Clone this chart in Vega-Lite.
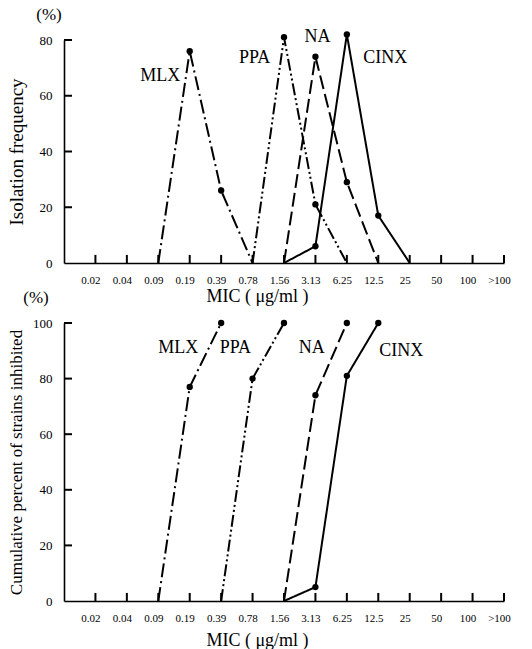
{
  "$schema": "https://vega.github.io/schema/vega-lite/v6.json",
  "background": "white",
  "padding": {"left": 6, "top": 6, "right": 0, "bottom": 0},
  "config": {
    "font": "Liberation Serif",
    "view": {"stroke": null},
    "axis": {
      "grid": false,
      "ticks": false,
      "domainColor": "black",
      "labelColor": "black",
      "titleColor": "black",
      "domainWidth": 1.6,
      "labelFont": "Liberation Serif",
      "titleFont": "Liberation Serif",
      "titleFontWeight": "normal"
    }
  },
  "datasets": {
    "freq": [
      {"drug": "MLX", "mic": "0.09", "pct": 0},
      {"drug": "MLX", "mic": "0.19", "pct": 76},
      {"drug": "MLX", "mic": "0.39", "pct": 26},
      {"drug": "MLX", "mic": "0.78", "pct": 0},
      {"drug": "PPA", "mic": "0.78", "pct": 0},
      {"drug": "PPA", "mic": "1.56", "pct": 81},
      {"drug": "PPA", "mic": "3.13", "pct": 21},
      {"drug": "PPA", "mic": "6.25", "pct": 0},
      {"drug": "NA", "mic": "1.56", "pct": 0},
      {"drug": "NA", "mic": "3.13", "pct": 74},
      {"drug": "NA", "mic": "6.25", "pct": 29},
      {"drug": "NA", "mic": "12.5", "pct": 0},
      {"drug": "CINX", "mic": "1.56", "pct": 0},
      {"drug": "CINX", "mic": "3.13", "pct": 6},
      {"drug": "CINX", "mic": "6.25", "pct": 82},
      {"drug": "CINX", "mic": "12.5", "pct": 17},
      {"drug": "CINX", "mic": "25", "pct": 0}
    ],
    "cum": [
      {"drug": "MLX", "mic": "0.09", "pct": 0},
      {"drug": "MLX", "mic": "0.19", "pct": 77},
      {"drug": "MLX", "mic": "0.39", "pct": 100},
      {"drug": "PPA", "mic": "0.39", "pct": 0},
      {"drug": "PPA", "mic": "0.78", "pct": 80},
      {"drug": "PPA", "mic": "1.56", "pct": 100},
      {"drug": "NA", "mic": "1.56", "pct": 0},
      {"drug": "NA", "mic": "3.13", "pct": 74},
      {"drug": "NA", "mic": "6.25", "pct": 100},
      {"drug": "CINX", "mic": "1.56", "pct": 0},
      {"drug": "CINX", "mic": "3.13", "pct": 5},
      {"drug": "CINX", "mic": "6.25", "pct": 81},
      {"drug": "CINX", "mic": "12.5", "pct": 100}
    ],
    "freqlab": [
      {"drug": "MLX", "mic": "0.09", "pct": 67},
      {"drug": "PPA", "mic": "0.78", "pct": 73.4},
      {"drug": "NA", "mic": "3.13", "pct": 81},
      {"drug": "CINX", "mic": "12.5", "pct": 73.7}
    ],
    "cumlab": [
      {"drug": "MLX", "mic": "0.39", "pct": 100},
      {"drug": "PPA", "mic": "1.56", "pct": 100},
      {"drug": "NA", "mic": "6.25", "pct": 100},
      {"drug": "CINX", "mic": "12.5", "pct": 100}
    ],
    "xticks": [
      {"mic": "0.02", "lo": 0, "hi": 2.9}, {"mic": "0.04", "lo": 0, "hi": 2.9}, {"mic": "0.09", "lo": 0, "hi": 2.9},
      {"mic": "0.19", "lo": 0, "hi": 2.9}, {"mic": "0.39", "lo": 0, "hi": 2.9}, {"mic": "0.78", "lo": 0, "hi": 2.9},
      {"mic": "1.56", "lo": 0, "hi": 2.9}, {"mic": "3.13", "lo": 0, "hi": 2.9}, {"mic": "6.25", "lo": 0, "hi": 2.9},
      {"mic": "12.5", "lo": 0, "hi": 2.9}, {"mic": "25", "lo": 0, "hi": 2.9}, {"mic": "50", "lo": 0, "hi": 2.9},
      {"mic": "100", "lo": 0, "hi": 2.9}, {"mic": ">100", "lo": 0, "hi": 2.9}
    ],
    "yticks1": [{"mic": "", "pct": 20}, {"mic": "", "pct": 40}, {"mic": "", "pct": 60}, {"mic": "", "pct": 80}],
    "yticks2": [{"mic": "", "pct": 20}, {"mic": "", "pct": 40}, {"mic": "", "pct": 60}, {"mic": "", "pct": 80}, {"mic": "", "pct": 100}],
    "unit1": [{"t": "(%)", "mic": "", "pct": 88.8}],
    "unit2": [{"t": "(%)", "mic": "", "pct": 109}]
  },
  "bounds": "flush",
  "spacing": 60,
  "vconcat": [
    {
      "width": 440,
      "height": 223,
      "encoding": {
        "x": {
          "field": "mic", "type": "ordinal",
          "scale": {"type": "point", "padding": 0, "domain": ["", "0.02", "0.04", "0.09", "0.19", "0.39", "0.78", "1.56", "3.13", "6.25", "12.5", "25", "50", "100", ">100"]},
          "axis": {
            "values": ["0.02", "0.04", "0.09", "0.19", "0.39", "0.78", "1.56", "3.13", "6.25", "12.5", "25", "50", "100", ">100"],
            "labelAngle": 0, "labelFontSize": 11, "labelPadding": 11, "labelOffset": -5,
            "title": "MIC ( μg/ml )", "titleFontSize": 18, "titleX": 193, "titlePadding": 2
          }
        },
        "y": {
          "field": "pct", "type": "quantitative",
          "scale": {"domain": [0, 80], "nice": false},
          "axis": {
            "values": [0, 20, 40, 60, 80], "labelFontSize": 13, "labelPadding": 12,
            "title": "Isolation frequency", "titleFontSize": 19, "titleX": -48, "titleBaseline": "middle"
          }
        }
      },
      "layer": [
        {
          "data": {"name": "xticks"},
          "mark": {"type": "rule", "color": "black", "strokeWidth": 2, "opacity": 1},
          "encoding": {"y": {"field": "lo", "type": "quantitative"}, "y2": {"field": "hi"}}
        },
        {
          "data": {"name": "yticks1"},
          "mark": {"type": "tick", "orient": "horizontal", "size": 8, "thickness": 2, "color": "black", "opacity": 1, "xOffset": 4}
        },
        {
          "data": {"name": "freq"},
          "mark": {"type": "line", "color": "black", "strokeWidth": 2, "clip": false},
          "encoding": {
            "strokeDash": {"field": "drug", "type": "nominal", "legend": null,
              "scale": {"domain": ["MLX", "PPA", "NA", "CINX"], "range": [[14, 4, 2, 4], [12, 3, 2, 3, 2, 3], [14, 5], [1, 0]]}},
            "order": {"value": null}
          }
        },
        {
          "data": {"name": "freq"},
          "transform": [{"filter": "datum.pct > 0"}],
          "mark": {"type": "circle", "color": "black", "opacity": 1, "size": 40}
        },
        {
          "data": {"name": "freqlab"},
          "transform": [{"filter": "datum.drug != 'CINX'"}],
          "mark": {"type": "text", "fontSize": 18, "dx": 2, "baseline": "middle", "color": "black"},
          "encoding": {"text": {"field": "drug"}}
        },
        {
          "data": {"name": "freqlab"},
          "transform": [{"filter": "datum.drug == 'CINX'"}],
          "mark": {"type": "text", "fontSize": 18, "dx": 7, "baseline": "middle", "color": "black"},
          "encoding": {"text": {"field": "drug"}}
        },
        {
          "data": {"name": "unit1"},
          "mark": {"type": "text", "fontSize": 17, "dx": -15, "baseline": "middle", "color": "black"},
          "encoding": {"text": {"field": "t"}}
        }
      ]
    },
    {
      "width": 440,
      "height": 278,
      "encoding": {
        "x": {
          "field": "mic", "type": "ordinal",
          "scale": {"type": "point", "padding": 0, "domain": ["", "0.02", "0.04", "0.09", "0.19", "0.39", "0.78", "1.56", "3.13", "6.25", "12.5", "25", "50", "100", ">100"]},
          "axis": {
            "values": ["0.02", "0.04", "0.09", "0.19", "0.39", "0.78", "1.56", "3.13", "6.25", "12.5", "25", "50", "100", ">100"],
            "labelAngle": 0, "labelFontSize": 11, "labelPadding": 11, "labelOffset": -5,
            "title": "MIC ( μg/ml )", "titleFontSize": 18, "titleX": 193, "titlePadding": 8
          }
        },
        "y": {
          "field": "pct", "type": "quantitative",
          "scale": {"domain": [0, 100], "nice": false},
          "axis": {
            "values": [0, 20, 40, 60, 80, 100], "labelFontSize": 13, "labelPadding": 12,
            "title": "Cumulative percent of strains inhibited", "titleFontSize": 17, "titleX": -48, "titleBaseline": "middle"
          }
        }
      },
      "layer": [
        {
          "data": {"name": "xticks"},
          "mark": {"type": "rule", "color": "black", "strokeWidth": 2, "opacity": 1},
          "encoding": {"y": {"field": "lo", "type": "quantitative"}, "y2": {"field": "hi"}}
        },
        {
          "data": {"name": "yticks2"},
          "mark": {"type": "tick", "orient": "horizontal", "size": 8, "thickness": 2, "color": "black", "opacity": 1, "xOffset": 4}
        },
        {
          "data": {"name": "cum"},
          "mark": {"type": "line", "color": "black", "strokeWidth": 2, "clip": false},
          "encoding": {
            "strokeDash": {"field": "drug", "type": "nominal", "legend": null,
              "scale": {"domain": ["MLX", "PPA", "NA", "CINX"], "range": [[14, 4, 2, 4], [12, 3, 2, 3, 2, 3], [14, 5], [1, 0]]}},
            "order": {"value": null}
          }
        },
        {
          "data": {"name": "cum"},
          "transform": [{"filter": "datum.pct > 0"}],
          "mark": {"type": "circle", "color": "black", "opacity": 1, "size": 40}
        },
        {
          "data": {"name": "cumlab"},
          "transform": [{"filter": "datum.drug == 'MLX'"}],
          "mark": {"type": "text", "fontSize": 18, "dx": -23, "dy": 25, "align": "right", "baseline": "middle", "color": "black"},
          "encoding": {"text": {"field": "drug"}}
        },
        {
          "data": {"name": "cumlab"},
          "transform": [{"filter": "datum.drug == 'PPA'"}],
          "mark": {"type": "text", "fontSize": 18, "dx": -33, "dy": 25, "align": "right", "baseline": "middle", "color": "black"},
          "encoding": {"text": {"field": "drug"}}
        },
        {
          "data": {"name": "cumlab"},
          "transform": [{"filter": "datum.drug == 'NA'"}],
          "mark": {"type": "text", "fontSize": 18, "dx": -22, "dy": 25, "align": "right", "baseline": "middle", "color": "black"},
          "encoding": {"text": {"field": "drug"}}
        },
        {
          "data": {"name": "cumlab"},
          "transform": [{"filter": "datum.drug == 'CINX'"}],
          "mark": {"type": "text", "fontSize": 18, "dx": 1, "dy": 28, "align": "left", "baseline": "middle", "color": "black"},
          "encoding": {"text": {"field": "drug"}}
        },
        {
          "data": {"name": "unit2"},
          "mark": {"type": "text", "fontSize": 17, "dx": -28, "baseline": "middle", "color": "black"},
          "encoding": {"text": {"field": "t"}}
        }
      ]
    }
  ]
}
